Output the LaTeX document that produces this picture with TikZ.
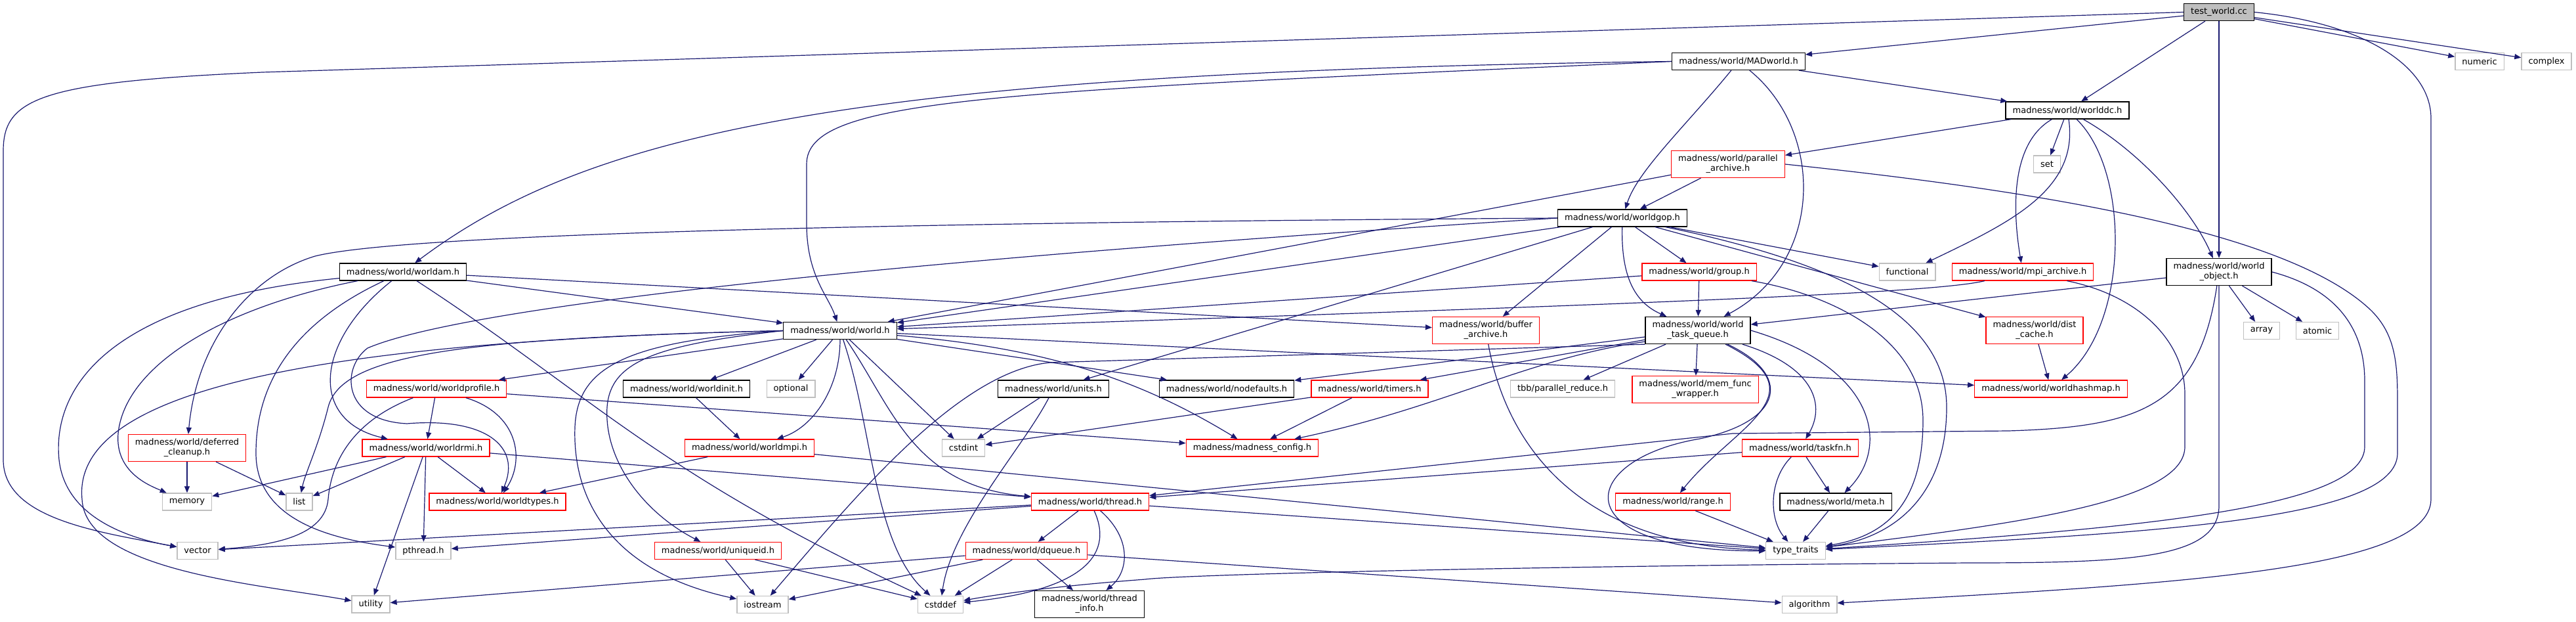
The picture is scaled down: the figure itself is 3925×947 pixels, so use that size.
\documentclass[tikz,border=0pt]{standalone}
\usepackage{fontspec}
\setmainfont{DejaVu Sans}
\usepackage{tikz}
\usetikzlibrary{arrows.meta}
\definecolor{cEdge}{RGB}{25,25,112}
\definecolor{cExt}{RGB}{191,191,191}
\definecolor{cTrunc}{RGB}{255,0,0}
\definecolor{cDoc}{RGB}{0,0,0}
\begin{document}
\begin{tikzpicture}[x=1pt, y=-1pt,
  box/.style={draw, fill=white, line width=1.3pt, font=\fontsize{13}{15}\selectfont, align=center,
              minimum height=26pt, inner xsep=10.5pt, inner ysep=2pt},
  hdr/.style={box, draw=cDoc},
  trunc/.style={box, draw=cTrunc},
  ext/.style={box, draw=cExt},
  tall/.style={minimum height=41pt},
  arr/.style={-{Triangle[length=10pt,width=8pt]}, draw=cEdge, line width=1.2pt}]
\useasboundingbox (0,0) rectangle (3925,947);
\node[hdr, fill=cExt] (test) at (3381,18.5) {test\_world.cc};
\node[hdr] (MADworld) at (2649,93.5) {madness/world/MADworld.h};
\node[ext] (numeric) at (3778,93.5) {numeric};
\node[ext] (complex) at (3880,93.5) {complex};
\node[hdr] (worlddc) at (3150,168) {madness/world/worlddc.h};
\node[trunc, tall] (parallelarch) at (2633,250) {madness/world/parallel\\\_archive.h};
\node[ext] (set) at (3119,250) {set};
\node[hdr] (worldgop) at (2472,332) {madness/world/worldgop.h};
\node[hdr] (worldam) at (614,414) {madness/world/worldam.h};
\node[trunc] (group) at (2589,414) {madness/world/group.h};
\node[ext] (functional) at (2906,414) {functional};
\node[trunc] (mpiarch) at (3082,414) {madness/world/mpi\_archive.h};
\node[hdr, tall] (worldobj) at (3381,414) {madness/world/world\\\_object.h};
\node[hdr] (world) at (1280,503.5) {madness/world/world.h};
\node[trunc, tall] (bufferarch) at (2264,503) {madness/world/buffer\\\_archive.h};
\node[hdr, tall] (wtq) at (2587,503) {madness/world/world\\\_task\_queue.h};
\node[trunc, tall] (distcache) at (3100,503) {madness/world/dist\\\_cache.h};
\node[ext] (array) at (3446,503.5) {array};
\node[ext] (atomic) at (3531,503.5) {atomic};
\node[trunc] (worldprofile) at (665,592) {madness/world/worldprofile.h};
\node[hdr] (worldinit) at (1046,592) {madness/world/worldinit.h};
\node[ext] (optional) at (1205,592) {optional};
\node[hdr] (units) at (1605,592) {madness/world/units.h};
\node[hdr] (nodefaults) at (1869,592) {madness/world/nodefaults.h};
\node[trunc] (timers) at (2087,592) {madness/world/timers.h};
\node[ext] (tbbreduce) at (2381,592) {tbb/parallel\_reduce.h};
\node[trunc, tall] (memfunc) at (2583,593) {madness/world/mem\_func\\\_wrapper.h};
\node[trunc] (worldhashmap) at (3125,592) {madness/world/worldhashmap.h};
\node[trunc, tall] (deferred) at (285,682) {madness/world/deferred\\\_cleanup.h};
\node[trunc] (worldrmi) at (649,682) {madness/world/worldrmi.h};
\node[trunc] (worldmpi) at (1142,682) {madness/world/worldmpi.h};
\node[ext] (cstdint) at (1468,682) {cstdint};
\node[trunc] (config) at (1908,682) {madness/madness\_config.h};
\node[trunc] (taskfn) at (2743,682) {madness/world/taskfn.h};
\node[ext] (memory) at (285,764) {memory};
\node[ext] (list) at (456,764) {list};
\node[trunc] (worldtypes) at (758,764) {madness/world/worldtypes.h};
\node[trunc] (thread) at (1661,764) {madness/world/thread.h};
\node[trunc] (range) at (2549,764) {madness/world/range.h};
\node[hdr] (meta) at (2797,764) {madness/world/meta.h};
\node[ext] (vector) at (301,838.5) {vector};
\node[ext] (pthread) at (645,838.5) {pthread.h};
\node[trunc] (uniqueid) at (1094,838.5) {madness/world/uniqueid.h};
\node[trunc] (dqueue) at (1564,838.5) {madness/world/dqueue.h};
\node[ext] (typetraits) at (2736,838.5) {type\_traits};
\node[ext] (utility) at (565,920) {utility};
\node[ext] (iostream) at (1162,920.5) {iostream};
\node[ext] (cstddef) at (1433,920.5) {cstddef};
\node[hdr, tall] (threadinfo) at (1660,920) {madness/world/thread\\\_info.h};
\node[ext] (algorithm) at (2757,920.5) {algorithm};

\draw[arr] (test) -- (MADworld);
\draw[arr] (test) -- (worlddc);
\draw[arr] (test) -- (worldobj);
\draw[arr] (test) -- (numeric);
\draw[arr] (test) -- (complex);
\draw[arr] (test.west) -- (400,110) .. controls (60,125) and (5,150) .. (5,230) -- (5,700) .. controls (5,790) and (150,810) .. (vector);
\draw[arr] (test.east) .. controls (3600,35) and (3704,100) .. (3704,180) -- (3704,760) .. controls (3704,870) and (3300,890) .. (algorithm);

\draw[arr] (MADworld.west) .. controls (1300,110) and (900,200) .. (worldam);
\draw[arr] (MADworld.west) .. controls (1500,140) and (1229,150) .. (1229,250) -- (1229,340) .. controls (1229,420) and (1262,450) .. (world);
\draw[arr] (MADworld) .. controls (2570,190) and (2495,260) .. (worldgop);
\draw[arr] (MADworld) .. controls (2780,200) and (2780,400) .. (wtq);
\draw[arr] (MADworld) -- (worlddc);

\draw[arr] (worlddc) -- (parallelarch);
\draw[arr] (worlddc) -- (set);
\draw[arr] (worlddc) .. controls (3168,290) and (3060,340) .. (functional);
\draw[arr] (worlddc) .. controls (3060,220) and (3068,330) .. (mpiarch);
\draw[arr] (worlddc) .. controls (3245,260) and (3245,490) .. (worldhashmap);
\draw[arr] (worlddc) .. controls (3260,230) and (3340,320) .. (worldobj);

\draw[arr] (parallelarch) -- (worldgop);
\draw[arr] (parallelarch) -- (world);
\draw[arr] (parallelarch.east) .. controls (3100,290) and (3480,350) .. (3610,470) .. controls (3653,510) and (3653,560) .. (3653,620) -- (3653,690) .. controls (3653,790) and (3300,812) .. (typetraits);

\draw[arr] (worldgop) -- (world);
\draw[arr] (worldgop.west) .. controls (1200,340) and (600,360) .. (480,390) .. controls (380,420) and (300,520) .. (deferred);
\draw[arr] (worldgop.west) .. controls (1300,400) and (700,470) .. (560,530) .. controls (520,560) and (520,640) .. (620,645) .. controls (740,635) and (795,680) .. (worldtypes);
\draw[arr] (worldgop) -- (units);
\draw[arr] (worldgop) -- (bufferarch);
\draw[arr] (worldgop) .. controls (2470,420) and (2490,460) .. (wtq);
\draw[arr] (worldgop) -- (group);
\draw[arr] (worldgop) -- (functional);
\draw[arr] (worldgop) -- (distcache);
\draw[arr] (worldgop) .. controls (2800,400) and (2966,480) .. (2966,620) .. controls (2966,760) and (2880,820) .. (typetraits);

\draw[arr] (group) -- (world);
\draw[arr] (group) -- (wtq);
\draw[arr] (group) .. controls (2800,450) and (2930,520) .. (2930,640) .. controls (2930,760) and (2880,815) .. (typetraits);

\draw[arr] (mpiarch) .. controls (2950,445) and (2600,460) .. (world);
\draw[arr] (mpiarch) .. controls (3260,450) and (3329,520) .. (3329,600) -- (3329,680) .. controls (3329,760) and (3100,795) .. (typetraits);

\draw[arr] (worldobj) -- (wtq);
\draw[arr] (worldobj) -- (array);
\draw[arr] (worldobj) -- (atomic);
\draw[arr] (worldobj) .. controls (3350,620) and (3260,650) .. (3060,656) -- (2640,660) -- (thread);
\draw[arr] (worldobj.east) .. controls (3560,440) and (3603,500) .. (3603,580) -- (3603,680) .. controls (3603,775) and (3250,805) .. (typetraits);
\draw[arr] (worldobj) -- (3381,770) .. controls (3381,850) and (3250,857) .. (3000,857) .. controls (2300,862) and (1800,875) .. (1745,882) .. controls (1600,893) and (1520,905) .. (cstddef);

\draw[arr] (worldam) -- (world);
\draw[arr] (worldam) -- (bufferarch);
\draw[arr] (worldam) .. controls (150,460) and (80,600) .. (90,700) .. controls (100,790) and (200,820) .. (vector);
\draw[arr] (worldam) .. controls (330,470) and (190,560) .. (180,660) .. controls (175,720) and (230,740) .. (memory);
\draw[arr] (worldam) .. controls (430,500) and (390,600) .. (390,690) .. controls (390,790) and (500,820) .. (pthread);
\draw[arr] (worldam) .. controls (480,520) and (470,640) .. (worldrmi);
\draw[arr] (worldam) .. controls (900,600) and (1000,720) .. (cstddef);

\draw[arr] (world) -- (worldinit);
\draw[arr] (world) -- (optional);
\draw[arr] (world) .. controls (1280,590) and (1240,650) .. (worldmpi);
\draw[arr] (world) -- (cstdint);
\draw[arr] (world) .. controls (1330,650) and (1330,830) .. (cstddef);
\draw[arr] (world.west) .. controls (1000,525) and (930,550) .. (925,620) .. controls (920,700) and (980,780) .. (uniqueid);
\draw[arr] (world.west) .. controls (950,520) and (880,560) .. (876,650) .. controls (872,760) and (930,870) .. (iostream);
\draw[arr] (world) .. controls (1360,620) and (1390,740) .. (thread);
\draw[arr] (world) .. controls (1600,530) and (1740,580) .. (config);
\draw[arr] (world) -- (nodefaults);
\draw[arr] (world) -- (worldhashmap);
\draw[arr] (world) -- (worldprofile);
\draw[arr] (world.west) .. controls (700,515) and (520,540) .. (500,620) .. controls (485,680) and (465,720) .. (list);
\draw[arr] (world.west) .. controls (450,520) and (110,600) .. (125,760) .. controls (130,870) and (400,890) .. (utility);

\draw[arr] (bufferarch) .. controls (2290,650) and (2380,830) .. (typetraits);

\draw[arr] (wtq) -- (nodefaults);
\draw[arr] (wtq.south west) -- (1600,552) .. controls (1460,565) and (1300,760) .. (iostream);
\draw[arr] (wtq) -- (timers);
\draw[arr] ([yshift=4pt]wtq.south west) .. controls (2330,545) and (2200,620) .. (config);
\draw[arr] (wtq) -- (tbbreduce);
\draw[arr] (wtq) -- (memfunc);
\draw[arr] (wtq) .. controls (2730,570) and (2720,640) .. (2590,668) .. controls (2400,700) and (2380,840) .. (typetraits);
\draw[arr] (wtq) .. controls (2780,600) and (2640,650) .. (range);
\draw[arr] (wtq) .. controls (2770,560) and (2780,620) .. (taskfn);
\draw[arr] (wtq.east) .. controls (2860,560) and (2880,680) .. (meta);

\draw[arr] (distcache) -- (worldhashmap);

\draw[arr] (worldprofile) -- (worldrmi);
\draw[arr] (worldprofile) .. controls (790,630) and (800,700) .. (worldtypes);
\draw[arr] (worldprofile) .. controls (540,640) and (505,700) .. (500,760) .. controls (495,815) and (420,830) .. (vector);
\draw[arr] (worldprofile) -- (config);

\draw[arr] (worldrmi) -- (memory);
\draw[arr] (worldrmi) -- (list);
\draw[arr] (worldrmi) -- (pthread);
\draw[arr] (worldrmi) -- (utility);
\draw[arr] (worldrmi) -- (worldtypes);
\draw[arr] (worldrmi) -- (thread);

\draw[arr] (deferred) -- (memory);
\draw[arr] (deferred) -- (list);

\draw[arr] (worldinit) -- (worldmpi);
\draw[arr] (worldmpi) -- (worldtypes);
\draw[arr] (worldmpi) -- (typetraits);

\draw[arr] (units) -- (cstdint);
\draw[arr] (units) .. controls (1560,680) and (1450,800) .. (cstddef);
\draw[arr] (timers) -- (cstdint);
\draw[arr] (timers) -- (config);

\draw[arr] (taskfn) -- (thread);
\draw[arr] (taskfn) .. controls (2695,730) and (2695,790) .. (typetraits);
\draw[arr] (taskfn) -- (meta);

\draw[arr] (thread) -- (vector);
\draw[arr] (thread) -- (pthread);
\draw[arr] (thread) -- (typetraits);
\draw[arr] (thread) -- (dqueue);
\draw[arr] (thread) .. controls (1700,850) and (1640,900) .. (cstddef);
\draw[arr] (thread) .. controls (1725,820) and (1720,870) .. (threadinfo);

\draw[arr] (range) -- (typetraits);
\draw[arr] (meta) -- (typetraits);

\draw[arr] (uniqueid) -- (iostream);
\draw[arr] (uniqueid) -- (cstddef);

\draw[arr] (dqueue) -- (utility);
\draw[arr] (dqueue) -- (iostream);
\draw[arr] (dqueue) -- (cstddef);
\draw[arr] (dqueue) -- (threadinfo);
\draw[arr] (dqueue) -- (algorithm);
\end{tikzpicture}
\end{document}
